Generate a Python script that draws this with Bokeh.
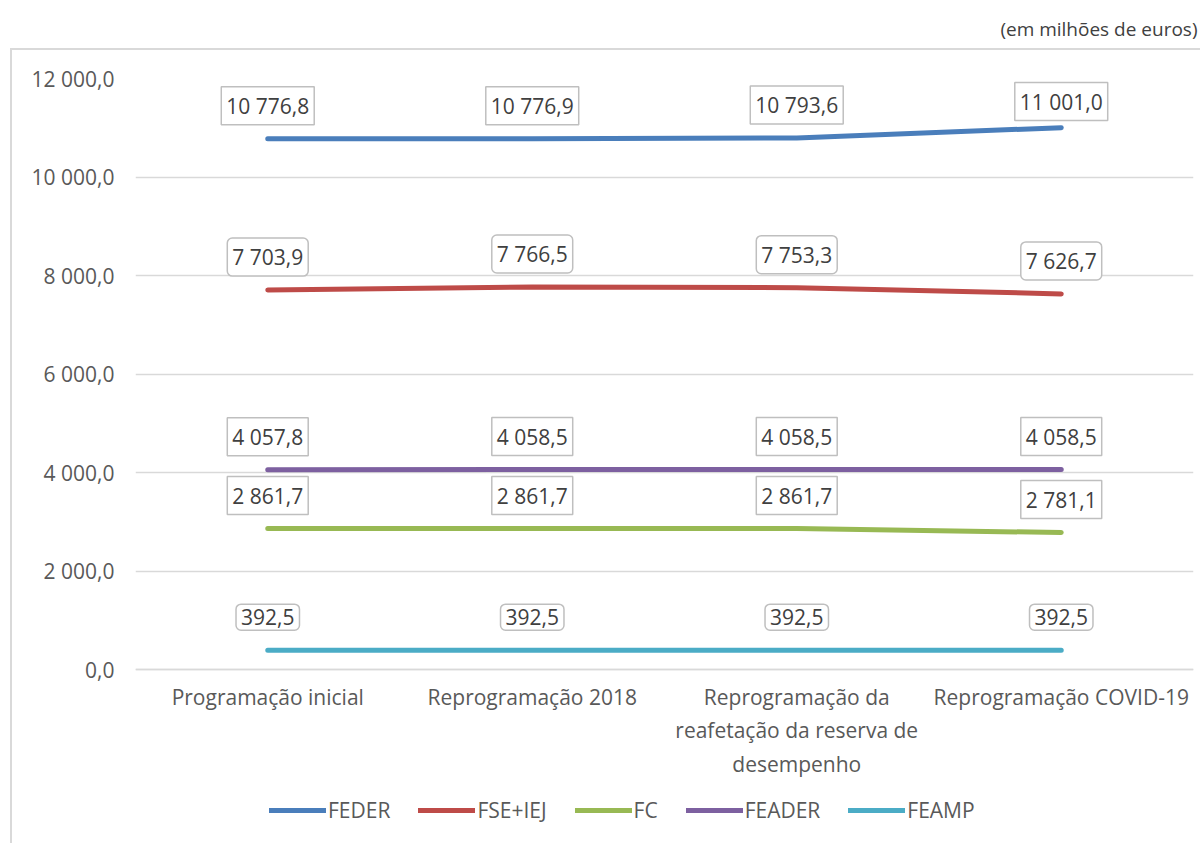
from bokeh.plotting import figure
from bokeh.models import (FixedTicker, Legend, LegendItem, Label, Title, Range1d)
from bokeh.embed import file_html
from bokeh.resources import INLINE

categories = ["Programação inicial", "Reprogramação 2018",
              "Reprogramação da\nreafetação da reserva de\ndesempenho",
              "Reprogramação COVID-19"]
series_names = ["FEDER", "FSE+IEJ", "FC", "FEADER", "FEAMP"]
feder = [10776.8, 10776.9, 10793.6, 11001.0]
fse_iej = [7703.9, 7766.5, 7753.3, 7626.7]
fc = [2861.7, 2861.7, 2861.7, 2781.1]
feader = [4057.8, 4058.5, 4058.5, 4058.5]
feamp = [392.5, 392.5, 392.5, 392.5]
y_ticks = [0, 2000, 4000, 6000, 8000, 10000, 12000]
unit_note = "(em milhões de euros)"

colors = ["#4A7EBB", "#BE4B48", "#98B954", "#7D60A0", "#4BACC6"]
radii = [0, 5, 0, 0, 5]
FONT = "Open Sans"
FS = "21px"
PLOT_H = 591          # pixels between 0 and the top value
BELOW_H = 174         # pixels kept under the zero line for axis labels and legend
Y_MAX = 12000
PX_PER_UNIT = PLOT_H / Y_MAX
Y_MIN = -BELOW_H / PX_PER_UNIT


def fmt(v):
    return f"{v:,.1f}".replace(",", " ").replace(".", ",")


frame_css = (":host::after{content:'';position:absolute;left:10px;top:48px;"
             "right:-20px;bottom:-20px;border:2px solid #D9D9D9;"
             "pointer-events:none;z-index:10}")

p = figure(frame_width=1058, frame_height=PLOT_H + BELOW_H, output_backend="svg",
           toolbar_location=None,
           x_range=Range1d(-0.5, 3.5), y_range=Range1d(Y_MIN, Y_MAX),
           min_border_left=135, min_border_right=7, min_border_top=78,
           min_border_bottom=0, outline_line_color=None,
           stylesheets=[frame_css])

# spacer (innermost), then the unit note above it
p.add_layout(Title(text=" ", text_font_size="10px", standoff=24), "above")
p.add_layout(Title(text=unit_note, align="right", text_font_size="19px",
                   text_font=FONT, text_font_style="normal", text_color="#404040",
                   standoff=0, offset=-4), "above")

xs = list(range(len(categories)))
p.xaxis.fixed_location = 0
p.xaxis.ticker = FixedTicker(ticks=xs)
p.xaxis.major_label_overrides = {i: c for i, c in zip(xs, categories)}
p.xaxis.major_tick_line_color = None
p.xaxis.minor_tick_line_color = None
p.xaxis.axis_line_color = "#D9D9D9"
p.xaxis.axis_line_width = 1.5
p.xaxis.major_label_standoff = 7
p.xaxis.major_label_text_font = FONT
p.xaxis.major_label_text_font_size = FS
p.xaxis.major_label_text_color = "#595959"

p.yaxis.ticker = FixedTicker(ticks=y_ticks)
p.yaxis.major_label_overrides = {t: fmt(t) for t in y_ticks}
p.yaxis.axis_line_color = None
p.yaxis.major_tick_line_color = None
p.yaxis.minor_tick_line_color = None
p.yaxis.major_label_standoff = 15
p.yaxis.major_label_text_font = FONT
p.yaxis.major_label_text_font_size = FS
p.yaxis.major_label_text_color = "#595959"

p.xgrid.visible = False
p.ygrid.ticker = FixedTicker(ticks=y_ticks)
p.ygrid.grid_line_color = "#D9D9D9"
p.ygrid.grid_line_width = 1.5

items = []
for name, vals, col, rad in zip(series_names, [feder, fse_iej, fc, feader, feamp], colors, radii):
    r = p.line(xs, vals, line_width=5, line_color=col, line_cap="round")
    items.append(LegendItem(label=name, renderers=[r]))
    for x, v in zip(xs, vals):
        room = (Y_MAX - v) * PX_PER_UNIT - 23   # keep the box inside the plot area
        p.add_layout(Label(x=x, y=v, text=fmt(v), y_offset=min(33, room),
                           text_align="center",
                           text_baseline="middle", text_font=FONT, text_font_size=FS,
                           text_color="#404040", background_fill_color="white",
                           border_line_color="#BFBFBF", border_line_width=1.5,
                           padding=5, border_radius=rad))

legend = Legend(items=items, orientation="horizontal", location=(134, 19),
                glyph_width=57, glyph_height=20, label_standoff=2, spacing=28,
                border_line_color=None, background_fill_alpha=0, padding=0, margin=0,
                label_text_font=FONT, label_text_font_size=FS,
                label_text_color="#595959")
p.add_layout(legend)

open("out.html", "w").write(file_html(p, INLINE))
